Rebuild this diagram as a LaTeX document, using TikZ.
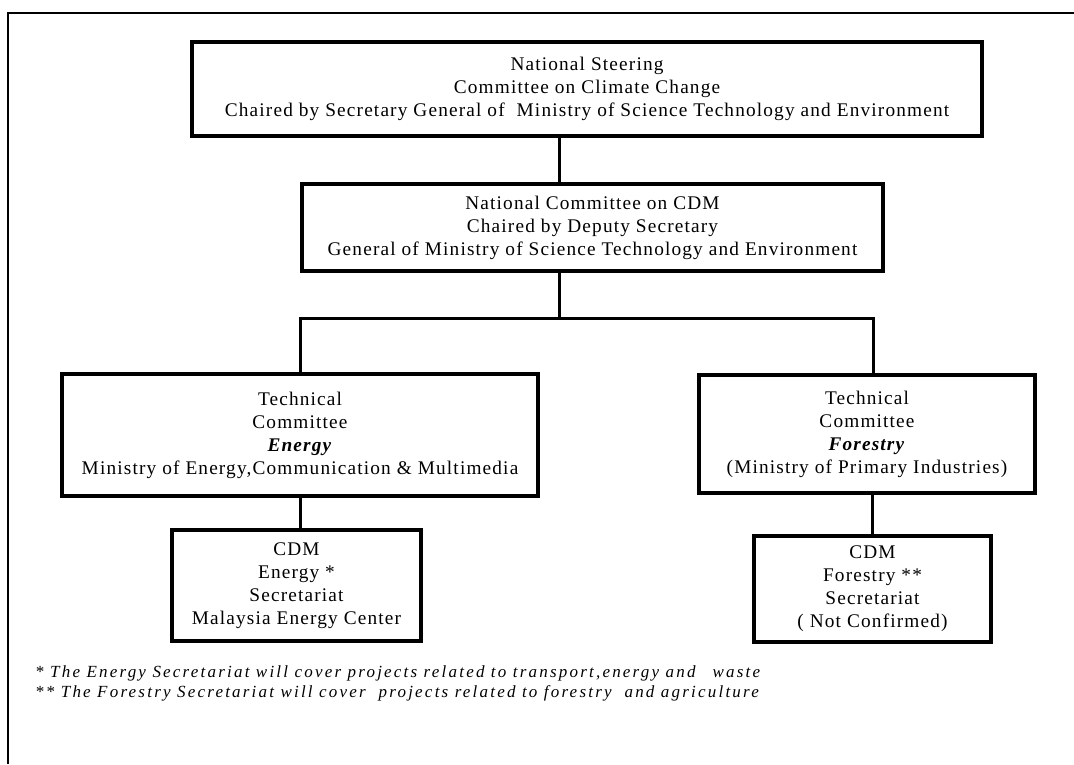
\documentclass[tikz,border=0pt]{standalone}
\usepackage{fontspec}
\setmainfont{Liberation Serif}[LetterSpace=6]
\newfontfamily\notefont{Liberation Serif}[LetterSpace=13]
\usetikzlibrary{positioning}
\tikzset{
      org/.style={draw=black, line width=3.5pt, align=center, inner sep=0pt,
            font=\fontsize{19.3}{23}\selectfont},
      link/.style={draw=black, line width=3pt},
      frame/.style={draw=black, line width=2pt},
      note/.style={anchor=base west, inner sep=0pt,
            font=\notefont\itshape\fontsize{17}{20}\selectfont},
}

\begin{document}
\begin{tikzpicture}[x=1pt, y=-1pt]

        \useasboundingbox (0,0) rectangle (1074,764);
        \draw[frame] (8,764) -- (8,13) -- (1074,13);

        \node[org, minimum width=790, minimum height=94] (steer) at (587,89)
              {National Steering\\Committee on Climate Change\\Chaired by Secretary General of\ \ Ministry of Science Technology and Environment};
        \node[org, minimum width=581, minimum height=87] (cdm) at (592.5,227.5)
              {National Committee on CDM\\Chaired by Deputy Secretary\\General of Ministry of Science Technology and Environment};

        \node[org, minimum width=476, minimum height=122] (techE) at (300,435)
              {Technical\\Committee\\\textbf{\textit{Energy}}\\Ministry of Energy,Communication \& Multimedia};
        % text sits a little low in this one
        \node[org, minimum width=336, minimum height=118] (techF) at (867,434)
              {\mbox{}\\[-9pt]Technical\\Committee\\\textbf{\textit{Forestry}}\\(Ministry of Primary Industries)};

        \node[org, minimum width=249, minimum height=111] (secE) at (296.5,585.5)
              {CDM\\Energy *\\Secretariat\\Malaysia Energy Center};
        \node[org, minimum width=237, minimum height=106] (secF) at (872.5,589)
              {CDM\\Forestry **\\Secretariat\\( Not Confirmed)};

        \coordinate (trunk) at (559,318);
        \coordinate (rdrop) at (873,318);

        \draw[link] (steer.south -| trunk) -- (cdm.north -| trunk);
        \draw[link] (cdm.south -| trunk) -- (trunk);
        \draw[link] (techE.north) |- (trunk) -- (rdrop) -- (techF.north -| rdrop);
        \draw[link] (techE.south) -- (secE.north -| techE.south);
        \draw[link] (techF.south -| secF.north) -- (secF.north);

        \node[note] (noteE) at (35,677)
              {* The Energy Secretariat will cover projects related to transport,energy and\quad waste};
        \node[note] (noteF) at (35,697)
              {** The Forestry Secretariat will cover\ \ projects related to forestry\ \ and agriculture};

\end{tikzpicture}
\end{document}
